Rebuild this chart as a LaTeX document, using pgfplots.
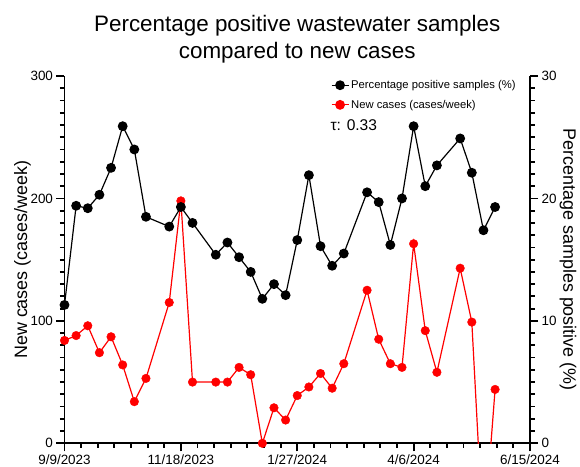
\documentclass[border=0pt]{standalone}
\usepackage{pgfplots}
\pgfplotsset{compat=1.18}
\usepackage{pgfplotstable}
\usepackage{fontspec}
\setmainfont{Liberation Sans}
\definecolor{tickc}{RGB}{0,0,0}

% day = days since 9/9/2023
\pgfplotstableread{
day cases
0 84
7 88
14 96
21 74
28 87
35 64
42 34
49 53
63 115
70 198
77 50
91 50
98 50
105 62
112 56
119 0
126 29
133 19
140 39
147 46
154 57
161 45
168 65
182 125
189 85
196 65
203 62
210 163
217 92
224 58
238 143
245 99
252 -80
259 44
}\casestable

\pgfplotstableread{
day pct
0 11.3
7 19.4
14 19.2
21 20.3
28 22.5
35 25.9
42 24.0
49 18.5
63 17.7
70 19.3
77 18.0
91 15.4
98 16.4
105 15.2
112 14.0
119 11.8
126 13.0
133 12.1
140 16.6
147 21.9
154 16.1
161 14.5
168 15.5
182 20.5
189 19.7
196 16.2
203 20.0
210 25.9
217 21.0
224 22.7
238 24.9
245 22.1
252 17.4
259 19.3
}\pcttable

\begin{document}
\begin{tikzpicture}
\begin{axis}[
  scale only axis, width=465.5bp, height=367.3bp,
  at={(0,0)}, anchor=south west,
  xmin=0, xmax=280,
  axis x line*=bottom, axis y line*=left,
  axis line style={line width=1.7bp},
  tick align=outside,
  tick style={draw=tickc, line width=1.8bp},
  major tick length=8bp, minor tick length=4.5bp,
  ticklabel style={font=\fontsize{13.5}{16}\selectfont},
  ymin=0, ymax=300, ytick={0,100,200,300}, minor ytick={0,10,...,300},
  yticklabels={\mbox{0},\mbox{100},\mbox{200},\mbox{300}},
  xtick={0,70,140,210,280},
  xticklabels={\mbox{9/9/2023},\mbox{11/18/2023},\mbox{1/27/2024},\mbox{4/6/2024},\mbox{6/15/2024}},
  minor xtick={0,10,...,280},
]
\addplot[red, line width=1.2bp, no marks] table[x=day, y=cases] {\casestable};
\addplot[red, only marks, mark=*, mark size=4.3bp, restrict y to domain=-1:400]
  table[x=day, y=cases] {\casestable};
\end{axis}

\begin{axis}[
  scale only axis, width=465.5bp, height=367.3bp,
  at={(0,0)}, anchor=south west,
  xmin=0, xmax=280,
  axis x line=none, axis y line*=right,
  axis line style={line width=1.7bp},
  tick align=outside,
  tick style={draw=tickc, line width=1.8bp},
  major tick length=8bp, minor tick length=4.5bp,
  ticklabel style={font=\fontsize{13.5}{16}\selectfont},
  ymin=0, ymax=30, ytick={0,10,20,30}, minor ytick={0,1,...,30},
  yticklabels={\mbox{0},\mbox{10},\mbox{20},\mbox{30}},
  clip=false,
  legend style={draw=none, fill=none, at={(rel axis cs:0.572,0.994)},
    anchor=north west, inner sep=0pt, row sep=6bp,
    font=\fontsize{11.3}{13}\selectfont},
  legend cell align=left,
]
\addplot[black, line width=1.2bp, mark=*, mark size=4.3bp, mark options={fill=black}]
  table[x=day, y=pct] {\pcttable};
\addlegendentry{Percentage positive samples (\%)}
\addlegendimage{red, line width=1.2bp, mark=*, mark size=4.3bp, mark options={fill=red}}
\addlegendentry{New cases (cases/week)}

\node[anchor=west, font=\fontsize{15.6}{18}\selectfont] at (rel axis cs:0.564,0.8666) {τ: 0.33};
\node[anchor=base, font=\fontsize{22.5}{26}\selectfont] at (rel axis cs:0.5,1.1225)
  {Percentage positive wastewater samples};
\node[anchor=base, font=\fontsize{22.5}{26}\selectfont] at (rel axis cs:0.5,1.049)
  {compared to new cases};
\node[rotate=90, font=\fontsize{18}{20}\selectfont] at (rel axis cs:-0.0902,0.5)
  {New cases (cases/week)};
\node[rotate=-90, font=\fontsize{18}{20}\selectfont] at (rel axis cs:1.0816,0.5)
  {Percentage samples positive (\%)};
\end{axis}

\pgfresetboundingbox
\path (-64.5bp,-23.7bp) rectangle (515.5bp,443.3bp);
\end{tikzpicture}
\end{document}
